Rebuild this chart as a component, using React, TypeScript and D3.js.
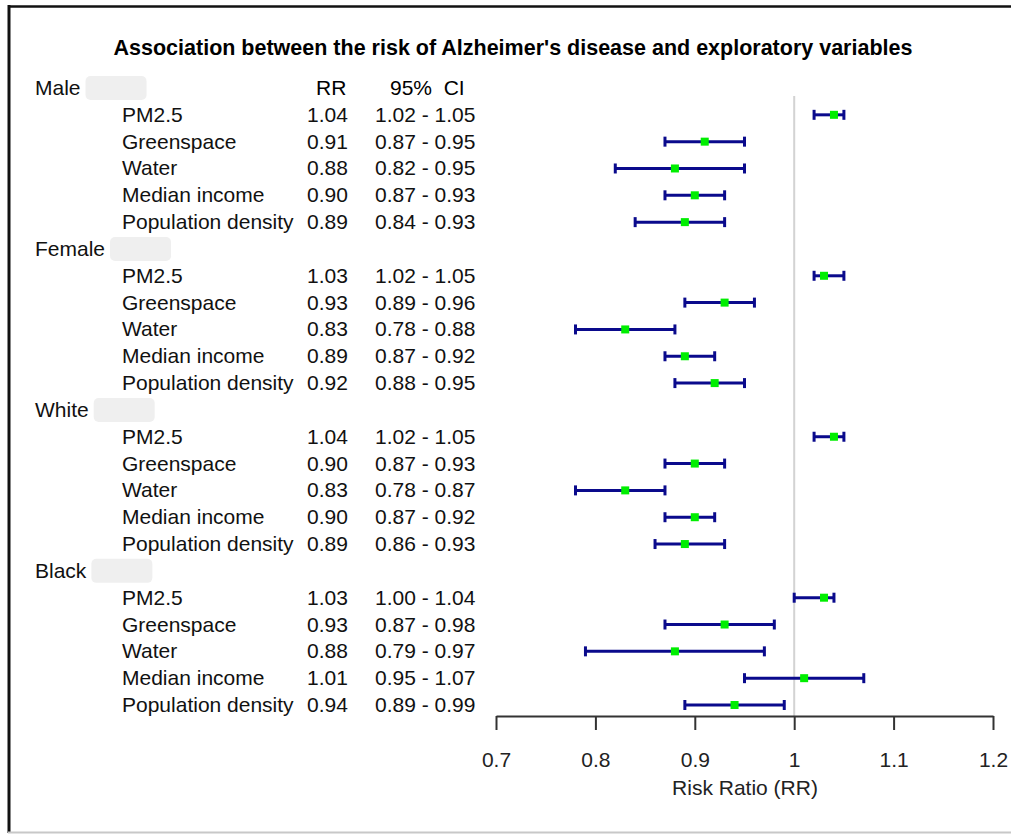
import React, { useRef, useEffect } from "react";
import * as d3 from "d3";

// groups and variables as shown in the forest plot
const groups = ["Male", "Female", "White", "Black"];
const variables = ["PM2.5", "Greenspace", "Water", "Median income", "Population density"];

// risk ratio and 95% CI per group (same order as variables)
const rrMale = [1.04, 0.91, 0.88, 0.9, 0.89];
const loMale = [1.02, 0.87, 0.82, 0.87, 0.84];
const hiMale = [1.05, 0.95, 0.95, 0.93, 0.93];

const rrFemale = [1.03, 0.93, 0.83, 0.89, 0.92];
const loFemale = [1.02, 0.89, 0.78, 0.87, 0.88];
const hiFemale = [1.05, 0.96, 0.88, 0.92, 0.95];

const rrWhite = [1.04, 0.9, 0.83, 0.9, 0.89];
const loWhite = [1.02, 0.87, 0.78, 0.87, 0.86];
const hiWhite = [1.05, 0.93, 0.87, 0.92, 0.93];

const rrBlack = [1.03, 0.93, 0.88, 1.01, 0.94];
const loBlack = [1.0, 0.87, 0.79, 0.95, 0.89];
const hiBlack = [1.04, 0.98, 0.97, 1.07, 0.99];

const rrAll = [rrMale, rrFemale, rrWhite, rrBlack];
const loAll = [loMale, loFemale, loWhite, loBlack];
const hiAll = [hiMale, hiFemale, hiWhite, hiBlack];

const xTicks = [0.7, 0.8, 0.9, 1, 1.1, 1.2];

const title = "Association between the risk of Alzheimer's disease and exploratory variables";

const width = 1011;
const height = 834;
const font = "'Liberation Sans', Arial, sans-serif";
const fs = 21;

interface Row {
  id: string;
  label: string;
  header: boolean;
  rr?: number;
  lo?: number;
  hi?: number;
}

const rows: Row[] = [];
groups.forEach((g, gi) => {
  rows.push({ id: g, label: g, header: true });
  variables.forEach((v, vi) => {
    rows.push({
      id: `${g}-${v}`,
      label: v,
      header: false,
      rr: rrAll[gi][vi],
      lo: loAll[gi][vi],
      hi: hiAll[gi][vi],
    });
  });
});

const App: React.FC = () => {
  const svgRef = useRef<SVGSVGElement | null>(null);

  useEffect(() => {
    if (!svgRef.current) return;
    const svg = d3.select(svgRef.current);
    svg.selectAll("*").remove();

    const x = d3.scaleLinear().domain([0.7, 1.2]).range([496, 993]);
    const y = d3
      .scalePoint<string>()
      .domain(rows.map((r) => r.id))
      .range([88, 705]);
    const axisY = 716;

    // frame
    svg.append("line").attr("x1", 8).attr("x2", width).attr("y1", 6.5).attr("y2", 6.5)
      .attr("stroke", "#111").attr("stroke-width", 2.5);
    svg.append("line").attr("x1", 9).attr("x2", 9).attr("y1", 5).attr("y2", 833)
      .attr("stroke", "#111").attr("stroke-width", 3);
    svg.append("line").attr("x1", 8).attr("x2", width).attr("y1", 832.5).attr("y2", 832.5)
      .attr("stroke", "#c8c8c8").attr("stroke-width", 2);

    // title
    svg.append("text")
      .attr("x", 513).attr("y", 55)
      .attr("text-anchor", "middle")
      .attr("font-family", font).attr("font-weight", "bold").attr("font-size", 21.5)
      .text(title);

    // column headers
    svg.append("text").attr("x", 316).attr("y", y(rows[0].id)! + 7)
      .attr("font-family", font).attr("font-size", fs).text("RR");
    svg.append("text").attr("x", 390).attr("y", y(rows[0].id)! + 7)
      .attr("font-family", font).attr("font-size", fs).attr("xml:space", "preserve")
      .text("95%  CI");

    // reference line at RR = 1
    svg.append("line")
      .attr("x1", x(1)).attr("x2", x(1))
      .attr("y1", 96).attr("y2", axisY)
      .attr("stroke", "#d3d3d3").attr("stroke-width", 2);

    // row labels
    rows.forEach((r) => {
      const cy = y(r.id)!;
      if (r.header) {
        const t = svg.append("text")
          .attr("x", 35).attr("y", cy + 7)
          .attr("font-family", font).attr("font-size", fs)
          .attr("fill", "#111")
          .text(r.label);
        const w = (t.node() as SVGTextElement).getComputedTextLength();
        svg.append("rect")
          .attr("x", 35 + w + 5).attr("y", cy - 12)
          .attr("width", 61).attr("height", 24)
          .attr("rx", 5)
          .attr("fill", "#efefef");
      } else {
        svg.append("text")
          .attr("x", 122).attr("y", cy + 7)
          .attr("font-family", font).attr("font-size", fs)
          .attr("fill", "#111")
          .text(r.label);
        svg.append("text")
          .attr("x", 307).attr("y", cy + 7)
          .attr("font-family", font).attr("font-size", fs)
          .attr("fill", "#111")
          .text(d3.format(".2f")(r.rr!));
        svg.append("text")
          .attr("x", 375).attr("y", cy + 7)
          .attr("font-family", font).attr("font-size", fs)
          .attr("fill", "#111")
          .text(`${d3.format(".2f")(r.lo!)} - ${d3.format(".2f")(r.hi!)}`);
      }
    });

    // error bars
    const dataRows = rows.filter((r) => !r.header);
    const bars = svg.append("g").attr("stroke", "#0a0a8c").attr("stroke-width", 3);
    dataRows.forEach((r) => {
      const cy = y(r.id)!;
      bars.append("line").attr("x1", x(r.lo!)).attr("x2", x(r.hi!)).attr("y1", cy).attr("y2", cy);
      bars.append("line").attr("x1", x(r.lo!)).attr("x2", x(r.lo!)).attr("y1", cy - 5).attr("y2", cy + 5);
      bars.append("line").attr("x1", x(r.hi!)).attr("x2", x(r.hi!)).attr("y1", cy - 5).attr("y2", cy + 5);
    });
    svg.append("g")
      .selectAll("rect")
      .data(dataRows)
      .enter()
      .append("rect")
      .attr("x", (d) => x(d.rr!) - 4)
      .attr("y", (d) => y(d.id)! - 4)
      .attr("width", 8)
      .attr("height", 8)
      .attr("fill", "#00ee00");

    // x axis
    const axis = svg.append("g").attr("transform", `translate(0,${axisY})`)
      .call(d3.axisBottom(x).tickValues(xTicks).tickSize(14).tickSizeOuter(0).tickFormat(d3.format("")));
    axis.select(".domain").attr("stroke", "#333").attr("stroke-width", 2);
    axis.selectAll(".tick line").attr("stroke", "#333").attr("stroke-width", 2);
    axis.selectAll(".tick text")
      .attr("font-family", font).attr("font-size", fs).attr("fill", "#222")
      .attr("y", 44).attr("dy", "0.35em");

    svg.append("text")
      .attr("x", 745).attr("y", 795)
      .attr("text-anchor", "middle")
      .attr("font-family", font).attr("font-size", fs).attr("fill", "#222")
      .text("Risk Ratio (RR)");
  }, []);

  return (
    <svg
      ref={svgRef}
      width={width}
      height={height}
      style={{ position: "absolute", left: 0, top: 0, background: "#fff" }}
    />
  );
};

export default App;
